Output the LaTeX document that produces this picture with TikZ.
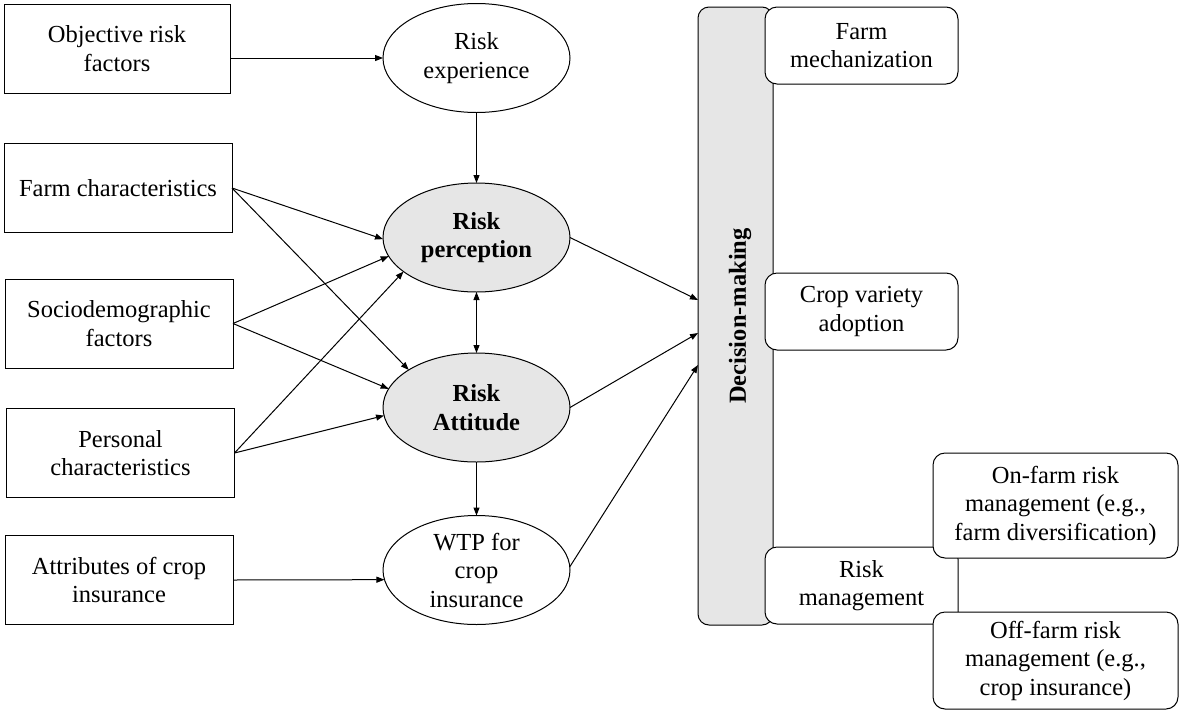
\documentclass[tikz,border=0pt]{standalone}
\usepackage{fontspec}
\setmainfont{Liberation Serif}
\usetikzlibrary{arrows.meta,shapes.geometric,calc}
\definecolor{boxgray}{HTML}{E6E6E6}
\begin{document}
\begin{tikzpicture}[x=1pt,y=-1pt,
  every node/.style={font=\fontsize{24.5}{28.5}\selectfont, align=center, inner sep=0pt, outer sep=0pt},
  sq/.style={draw, line width=1pt, rectangle, fill=white, minimum width=228pt, minimum height=89pt},
  ell/.style={draw, line width=1pt, ellipse, fill=white, inner xsep=0pt, inner ysep=-8pt, minimum width=187pt, minimum height=109pt},
  grayell/.style={ell, fill=boxgray, font=\fontsize{24.5}{28.5}\selectfont\bfseries},
  rbox/.style={draw, line width=1pt, rectangle, rounded corners=12pt, fill=white, minimum width=193pt, minimum height=77pt},
  wbox/.style={rbox, minimum width=245pt},
  arr/.style={line width=1pt, -{Triangle[length=8pt,width=6pt]}},
  darr/.style={line width=1pt, {Triangle[length=8pt,width=6pt]}-{Triangle[length=8pt,width=6pt]}}
]
\useasboundingbox (0,0) rectangle (1179,713);

% left boxes
\node[sq, minimum width=226pt] (obj) at (117,48.5) {Objective risk\\factors};
\node[sq] (farm) at (118,188) {Farm characteristics};
\node[sq] (socio) at (119,323.5) {Sociodemographic\\factors};
\node[sq] (pers) at (120.5,453) {Personal\\characteristics};
\node[sq] (attr) at (119,580) {Attributes of crop\\insurance};

% ellipses
\node[ell] (exp) at (476.5,58) {Risk\\experience};
\node[grayell] (perc) at (476.5,237.5) {Risk\\perception};
\node[grayell] (att) at (476.5,407.5) {Risk\\Attitude};
\node[ell] (wtp) at (476.5,570) {WTP for\\crop\\insurance};

% decision-making bar
\node[draw, line width=1pt, rectangle, rounded corners=11pt, fill=boxgray, minimum width=75pt, minimum height=618pt] (dm) at (735.5,316) {};
\node[rotate=90, font=\fontsize{24.5}{28.5}\selectfont\bfseries] (dmtext) at (740,316) {Decision-making};

% right boxes
\node[rbox] (mech) at (861.5,45.5) {Farm\\mechanization};
\node[rbox] (crop) at (861.5,311.5) {Crop variety\\adoption};
\node[rbox] (rm) at (861.5,585.5) {Risk\\management};
\node[wbox, minimum height=105pt] (onf) at (1055.5,505.5) {On-farm risk\\management (e.g.,\\farm diversification)};
\node[wbox, minimum height=97pt] (off) at (1055.5,660.5) {Off-farm risk\\management (e.g.,\\crop insurance)};

% connectors
\draw[arr] (obj.east |- exp.west) -- (exp.west);
\draw[arr] (attr.east) -- (wtp.186);
\draw[arr] (exp.south) -- (perc.north);
\draw[darr] (perc.south) -- (att.north);
\draw[arr] (att.south) -- (wtp.north);

\draw[arr] (farm.east) -- (perc.181);
\draw[arr] (farm.east) -- (att.151);
\draw[arr] (socio.east) -- (perc.192);
\draw[arr] (socio.east) -- (att.168);
\draw[arr] (pers.east) -- (perc.205);
\draw[arr] (pers.east) -- (att.185);

\draw[arr] (perc.east) -- (dm.west |- 0,300);
\draw[arr] (att.east) -- (dm.west |- 0,333);
\draw[arr] (wtp.2) -- (dm.west |- 0,365);
\end{tikzpicture}
\end{document}
